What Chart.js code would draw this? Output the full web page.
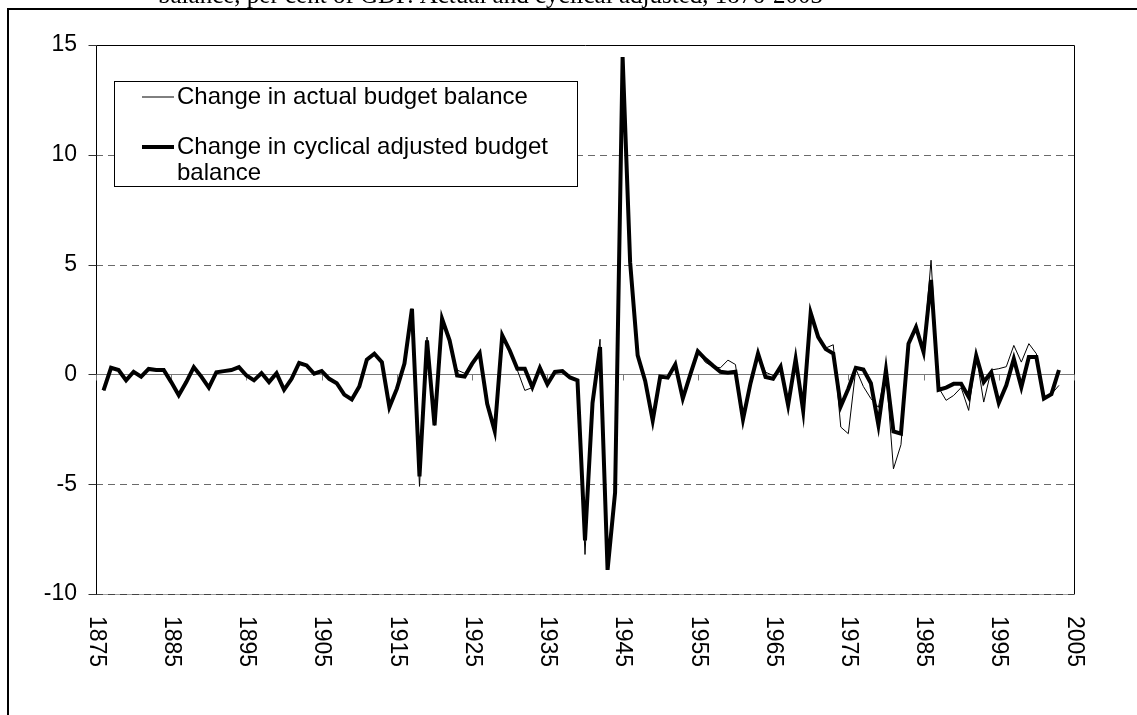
<!DOCTYPE html>
<html>
<head>
<meta charset="utf-8">
<script src="https://cdn.jsdelivr.net/npm/chart.js@4.4.1/dist/chart.umd.min.js"></script>
<style>
  html, body { margin: 0; padding: 0; background: #fff; }
  canvas { display: block; }
</style>
</head>
<body>
<canvas id="budget" width="1137" height="715"></canvas>
<script>
// years shown on the chart
const years = [
  1876, 1877, 1878, 1879,
  1880, 1881, 1882, 1883, 1884, 1885, 1886, 1887, 1888, 1889,
  1890, 1891, 1892, 1893, 1894, 1895, 1896, 1897, 1898, 1899,
  1900, 1901, 1902, 1903, 1904, 1905, 1906, 1907, 1908, 1909,
  1910, 1911, 1912, 1913, 1914, 1915, 1916, 1917, 1918, 1919,
  1920, 1921, 1922, 1923, 1924, 1925, 1926, 1927, 1928, 1929,
  1930, 1931, 1932, 1933, 1934, 1935, 1936, 1937, 1938, 1939,
  1940, 1941, 1942, 1943, 1944, 1945, 1946, 1947, 1948, 1949,
  1950, 1951, 1952, 1953, 1954, 1955, 1956, 1957, 1958, 1959,
  1960, 1961, 1962, 1963, 1964, 1965, 1966, 1967, 1968, 1969,
  1970, 1971, 1972, 1973, 1974, 1975, 1976, 1977, 1978, 1979,
  1980, 1981, 1982, 1983, 1984, 1985, 1986, 1987, 1988, 1989,
  1990, 1991, 1992, 1993, 1994, 1995, 1996, 1997, 1998, 1999,
  2000, 2001, 2002, 2003
];

// change in actual budget balance (thin line)
const actualBalance = [
  -0.73, 0.30, 0.20, -0.27,
  0.12, -0.10, 0.25, 0.20, 0.20, -0.35, -0.95, -0.35, 0.33, -0.10,
  -0.60, 0.10, 0.15, 0.20, 0.33, -0.05, -0.27, 0.06, -0.35, 0.05,
  -0.70, -0.20, 0.52, 0.41, 0.03, 0.15, -0.20, -0.40, -0.92, -1.14,
  -0.55, 0.67, 0.94, 0.56, -1.49, -0.65, 0.49, 2.99, -5.10, 1.70,
  -2.32, 2.53, 1.60, 0.20, 0.05, 0.49, 0.97, -1.34, -2.58, 1.78,
  1.09, 0.20, -0.73, -0.60, 0.41, -0.35, 0.11, 0.15, -0.14, -0.27,
  -8.20, -1.30, 1.60, -8.90, -5.37, 14.45, 5.10, 0.90, -0.30, -2.30,
  -0.10, -0.15, 0.45, -1.10, 0.00, 1.05, 0.55, 0.35, 0.30, 0.65,
  0.45, -2.05, -0.40, 0.95, 0.10, -0.05, 0.35, -1.40, 0.70, -1.65,
  2.90, 1.70, 1.20, 1.35, -2.40, -2.70, 0.25, -0.55, -1.10, -1.50,
  0.20, -4.30, -3.20, 1.30, 2.30, 1.10, 5.20, -0.60, -1.18, -0.96,
  -0.60, -1.64, 0.90, -1.26, 0.20, 0.26, 0.35, 1.32, 0.56, 1.40,
  0.94, -1.15, -0.90, -0.50
];

// change in cyclical adjusted budget balance (thick line)
const cyclicalBalance = [
  -0.73, 0.30, 0.20, -0.27,
  0.12, -0.10, 0.25, 0.20, 0.20, -0.35, -0.95, -0.35, 0.33, -0.10,
  -0.60, 0.10, 0.15, 0.20, 0.33, -0.05, -0.27, 0.06, -0.35, 0.05,
  -0.70, -0.20, 0.52, 0.41, 0.03, 0.15, -0.20, -0.40, -0.92, -1.14,
  -0.55, 0.67, 0.94, 0.56, -1.49, -0.65, 0.49, 2.99, -4.65, 1.55,
  -2.32, 2.53, 1.55, -0.05, -0.10, 0.49, 0.97, -1.34, -2.58, 1.78,
  1.09, 0.26, 0.26, -0.58, 0.30, -0.45, 0.11, 0.15, -0.14, -0.27,
  -7.56, -1.30, 1.25, -8.90, -5.37, 14.45, 5.10, 0.87, -0.30, -2.10,
  -0.10, -0.15, 0.45, -1.10, 0.00, 1.05, 0.70, 0.40, 0.12, 0.08,
  0.12, -2.05, -0.40, 0.95, -0.12, -0.20, 0.35, -1.40, 0.70, -1.65,
  2.80, 1.70, 1.15, 0.95, -1.45, -0.65, 0.30, 0.22, -0.40, -2.30,
  0.20, -2.60, -2.70, 1.40, 2.15, 1.02, 4.30, -0.70, -0.60, -0.43,
  -0.43, -1.03, 0.86, -0.35, 0.10, -1.30, -0.50, 0.71, -0.58, 0.79,
  0.79, -1.10, -0.90, 0.20
];

const seriesNames = [
  "Change in actual budget balance",
  "Change in cyclical adjusted budget balance"
];
const legendLines = [
  ["Change in actual budget balance"],
  ["Change in cyclical adjusted budget", "balance"]
];
const xTickLabels = [1875, 1885, 1895, 1905, 1915, 1925, 1935, 1945, 1955, 1965, 1975, 1985, 1995, 2005];
const yMin = -10, yMax = 15, yStep = 5;
const captionText = "balance, per cent of GDP. Actual and cyclical adjusted, 1876-2003";

const sansFont = "Arial, 'Liberation Sans', sans-serif";
const serifFont = "'Times New Roman', 'Liberation Serif', serif";

const decorations = {
  id: "decorations",
  beforeDatasetsDraw(chart) {
    const { ctx, chartArea: a, scales: { x, y } } = chart;
    ctx.save();
    ctx.lineWidth = 1;
    // horizontal grid lines
    y.ticks.forEach(t => {
      if (t.value === yMax) return;
      const py = Math.round(y.getPixelForValue(t.value)) + 0.5;
      if (t.value === yMin) {
        // bottom edge: faint solid border under the dashes
        ctx.beginPath();
        ctx.strokeStyle = "#a0a0a0";
        ctx.setLineDash([]);
        ctx.moveTo(a.left, py);
        ctx.lineTo(a.right, py);
        ctx.stroke();
      }
      ctx.beginPath();
      ctx.strokeStyle = t.value === 0 ? "#7a7a7a" : (t.value === yMin ? "#444" : "#6a6a6a");
      ctx.setLineDash(t.value === 0 ? [] : [7, 5]);
      ctx.moveTo(a.left, py);
      ctx.lineTo(a.right, py);
      ctx.stroke();
    });
    ctx.setLineDash([]);
    // plot border (left, top, right)
    ctx.strokeStyle = "#000";
    ctx.beginPath();
    const l = Math.round(a.left) + 0.5, r = Math.round(a.right) + 0.5;
    const t = Math.round(a.top) + 0.5, b = Math.round(a.bottom) + 0.5;
    ctx.moveTo(l, b); ctx.lineTo(l, t); ctx.lineTo(r, t); ctx.lineTo(r, b);
    ctx.stroke();
    // y tick marks
    ctx.strokeStyle = "#333";
    y.ticks.forEach(tk => {
      const py = Math.round(y.getPixelForValue(tk.value)) + 0.5;
      ctx.beginPath();
      ctx.moveTo(l - 8, py);
      ctx.lineTo(l, py);
      ctx.stroke();
    });
    // tick marks hanging from the zero line
    const y0 = Math.round(y.getPixelForValue(0)) + 0.5;
    ctx.strokeStyle = "#7a7a7a";
    xTickLabels.forEach(v => {
      const px = Math.round(x.getPixelForValue(v)) + 0.5;
      ctx.beginPath();
      ctx.moveTo(px, y0);
      ctx.lineTo(px, y0 + 6);
      ctx.stroke();
    });
    ctx.restore();
  },
  afterDraw(chart) {
    const { ctx, chartArea: a, scales: { x } } = chart;
    ctx.save();
    // rotated year labels, reading downwards
    ctx.fillStyle = "#000";
    ctx.font = "23px " + sansFont;
    ctx.textAlign = "left";
    ctx.textBaseline = "middle";
    xTickLabels.forEach(v => {
      const px = x.getPixelForValue(v);
      ctx.save();
      ctx.translate(px, a.bottom + 22);
      ctx.rotate(Math.PI / 2);
      ctx.fillText(String(v), 0, 0);
      ctx.restore();
    });

    // legend box
    const box = { left: 114.5, top: 81.5, right: 577.5, bottom: 186.5 };
    ctx.fillStyle = "#fff";
    ctx.fillRect(box.left, box.top, box.right - box.left, box.bottom - box.top);
    ctx.strokeStyle = "#000";
    ctx.lineWidth = 1;
    ctx.strokeRect(box.left, box.top, box.right - box.left, box.bottom - box.top);
    const rows = [97, 147];
    ctx.font = "24px " + sansFont;
    ctx.textBaseline = "middle";
    chart.data.datasets.forEach((ds, i) => {
      ctx.beginPath();
      ctx.strokeStyle = ds.borderColor;
      ctx.lineWidth = ds.borderWidth;
      ctx.moveTo(142, rows[i]);
      ctx.lineTo(174, rows[i]);
      ctx.stroke();
      ctx.fillStyle = "#000";
      legendLines[i].forEach((line, j) => {
        ctx.fillText(line, 177, rows[i] + j * 26);
      });
    });

    // outer frame of the figure
    ctx.strokeStyle = "#000";
    ctx.lineWidth = 2;
    ctx.beginPath();
    ctx.moveTo(8, 715);
    ctx.lineTo(8, 9);
    ctx.lineTo(1137, 9);
    ctx.stroke();

    // caption text cut off by the top of the page
    ctx.fillStyle = "#000";
    ctx.font = "25px " + serifFont;
    ctx.textBaseline = "alphabetic";
    ctx.fillText(captionText, 158, 3);
    ctx.restore();
  }
};

new Chart(document.getElementById("budget"), {
  type: "line",
  data: {
    labels: years,
    datasets: [
      {
        label: seriesNames[0],
        data: actualBalance,
        borderColor: "#000",
        borderWidth: 1,
        order: 1,
      },
      {
        label: seriesNames[1],
        data: cyclicalBalance,
        borderColor: "#000",
        borderWidth: 4,
        order: 0,
      },
    ],
  },
  options: {
    responsive: false,
    animation: false,
    devicePixelRatio: 1,
    layout: { padding: { left: 0, right: 63, top: 45, bottom: 0 } },
    elements: {
      point: { radius: 0, hoverRadius: 0 },
      line: { tension: 0, borderJoinStyle: "miter", borderCapStyle: "butt" },
    },
    plugins: {
      legend: { display: false },
      tooltip: { enabled: false },
      title: { display: false },
    },
    scales: {
      x: {
        type: "linear",
        min: 1875,
        max: 2005,
        grid: { display: false },
        border: { display: false },
        ticks: { display: false },
        afterFit(scale) { scale.height = 121; },
      },
      y: {
        min: yMin,
        max: yMax,
        grid: { display: false, drawTicks: true, tickLength: 8 },
        border: { display: false },
        ticks: {
          stepSize: yStep,
          padding: 11,
          color: "#000",
          font: { family: sansFont, size: 23 },
        },
        afterFit(scale) { scale.width = 96; },
      },
    },
  },
  plugins: [decorations],
});
</script>
</body>
</html>
